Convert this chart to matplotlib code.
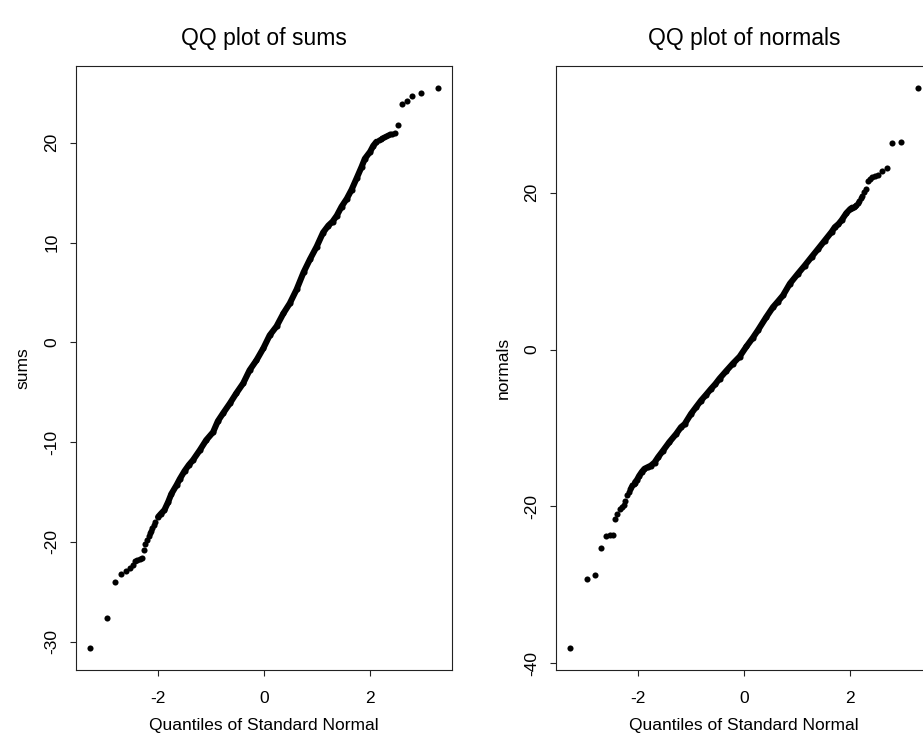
import matplotlib
matplotlib.use("Agg")
import matplotlib.pyplot as plt
import numpy as np

plt.rcParams['font.family'] = ['Liberation Sans', 'DejaVu Sans']
plt.rcParams['axes.unicode_minus'] = False

# ---- data (theoretical quantile, sample value) ----
sums_q = [-3.29, -2.97, -2.81, -2.70, -2.61, -2.54, -2.48, -2.43, -2.39, -2.35,
          -2.31, -2.27, -2.24, -2.21, -2.18, -2.16, -2.13, -2.11, -2.08, -2.06,
          -2.00, -1.95, -1.88, -1.81, -1.75, -1.65, -1.59, -1.50, -1.42, -1.34,
          -1.21, -1.09, -0.96, -0.87, -0.77, -0.64, -0.52, -0.39, -0.27, -0.14,
          -0.01, 0.11, 0.24, 0.37, 0.49, 0.62, 0.75, 0.87, 1.00, 1.12,
          1.22, 1.30, 1.38, 1.47, 1.57, 1.66, 1.76, 1.85, 1.91, 2.01,
          2.07, 2.13, 2.18, 2.21, 2.24, 2.27, 2.31, 2.35, 2.39, 2.43,
          2.48, 2.54, 2.61, 2.70, 2.81, 2.97, 3.29]
sums_v = [-30.6, -27.6, -24.05, -23.2, -22.9, -22.6, -22.35, -21.95, -21.8, -21.75,
          -21.6, -20.8, -20.2, -19.8, -19.4, -19.1, -18.9, -18.6, -18.3, -18.0,
          -17.5, -17.2, -16.8, -16.0, -15.2, -14.3, -13.7, -12.9, -12.3, -11.8,
          -10.8, -9.8, -9.0, -7.9, -7.1, -6.1, -5.1, -4.1, -2.8, -1.8,
          -0.6, 0.7, 1.6, 2.9, 3.9, 5.3, 7.0, 8.3, 9.6, 11.0,
          11.7, 12.1, 12.7, 13.6, 14.4, 15.3, 16.5, 17.6, 18.4, 19.1,
          19.7, 20.1, 20.3, 20.4, 20.5, 20.6, 20.7, 20.8, 20.84, 20.9,
          20.97, 21.75, 23.85, 24.2, 24.65, 25.0, 25.45]

normals_q = [-3.29, -2.97, -2.81, -2.70, -2.61, -2.54, -2.48, -2.43, -2.39, -2.35,
             -2.31, -2.27, -2.24, -2.21, -2.18, -2.16, -2.13, -2.11, -2.08, -2.06,
             -2.02, -1.98, -1.93, -1.88, -1.82, -1.76, -1.69, -1.62, -1.53, -1.41,
             -1.28, -1.19, -1.12, -1.00, -0.90, -0.81, -0.72, -0.62, -0.54, -0.46,
             -0.33, -0.21, -0.08, 0.05, 0.17, 0.27, 0.42, 0.55, 0.64, 0.74,
             0.87, 1.02, 1.15, 1.28, 1.40, 1.53, 1.66, 1.72, 1.79, 1.85,
             1.94, 2.01, 2.05, 2.08, 2.11, 2.13, 2.16, 2.18, 2.21, 2.24,
             2.27, 2.31, 2.35, 2.39, 2.43, 2.48, 2.54, 2.61, 2.70, 2.81,
             2.97, 3.29]
normals_v = [-38.0, -29.25, -28.8, -25.3, -23.75, -23.7, -23.6, -21.6, -21.0, -20.3,
             -20.1, -19.8, -19.3, -18.5, -18.1, -17.8, -17.5, -17.3, -17.1, -16.95,
             -16.6, -16.1, -15.6, -15.2, -15.0, -14.8, -14.4, -13.7, -12.9, -11.8,
             -10.75, -9.9, -9.5, -8.2, -7.3, -6.5, -5.8, -5.0, -4.4, -3.7,
             -2.7, -1.8, -0.9, 0.4, 1.5, 2.5, 4.1, 5.4, 6.1, 6.9,
             8.4, 9.65, 10.7, 11.8, 12.8, 13.9, 15.0, 15.6, 16.0, 16.5,
             17.4, 17.9, 18.1, 18.2, 18.3, 18.4, 18.7, 19.0, 19.3, 19.6,
             20.1, 20.5, 21.5, 21.8, 22.05, 22.15, 22.3, 22.8, 23.1, 26.3,
             26.45, 33.3]

titles = ["QQ plot of sums", "QQ plot of normals"]
ylabels = ["sums", "normals"]
xlabel = "Quantiles of Standard Normal"
xticks = [-2, 0, 2]
sums_yticks = [-30, -20, -10, 0, 10, 20]
normals_yticks = [-40, -20, 0, 20]

# dense band (points overlap into a solid line) -- styling ranges
bands = [(-2.05, 2.15), (-2.06, 2.06)]

W, H = 923, 742
fig = plt.figure(figsize=(W / 100, H / 100), dpi=100)

ax_w = 375.7 / W
ax_h = (670 - 66) / H
ax_b = (H - 670) / H
axes = [fig.add_axes([76 / W, ax_b, ax_w, ax_h]),
        fig.add_axes([556 / W, ax_b, ax_w, ax_h])]

datasets = [(sums_q, sums_v, sums_yticks), (normals_q, normals_v, normals_yticks)]
ms = 4.4
for ax, (q, v, yt), title, ylab, band in zip(axes, datasets, titles, ylabels, bands):
    q = np.asarray(q)
    v = np.asarray(v)
    m = (q >= band[0]) & (q <= band[1])
    ax.plot(q[m], v[m], '-', color='black', lw=ms, solid_capstyle='round',
            solid_joinstyle='round', zorder=2)
    ax.plot(q, v, 'o', color='black', ms=ms, mew=0, zorder=3)
    ax.margins(0.04)
    ax.set_xticks(xticks)
    ax.set_yticks(yt)
    ax.set_xticklabels([str(t) for t in xticks])
    ax.set_yticklabels([str(t) for t in yt])
    for s in ax.spines.values():
        s.set_linewidth(0.8)
        s.set_color('#222222')
    ax.tick_params(axis='both', direction='out', length=4, width=0.8,
                   color='#222222', labelsize=12.5, labelcolor='black')
    ax.tick_params(axis='x', pad=11)
    ax.tick_params(axis='y', pad=8, labelrotation=90)
    for lab in ax.get_yticklabels():
        lab.set_va('center')
    ax.set_title(title, fontsize=16.5, pad=15)
    ax.set_xlabel(xlabel, fontsize=12.5, labelpad=9)
    ax.set_ylabel(ylab, fontsize=12.5, labelpad=10)

fig.savefig("out.png", dpi=100)
